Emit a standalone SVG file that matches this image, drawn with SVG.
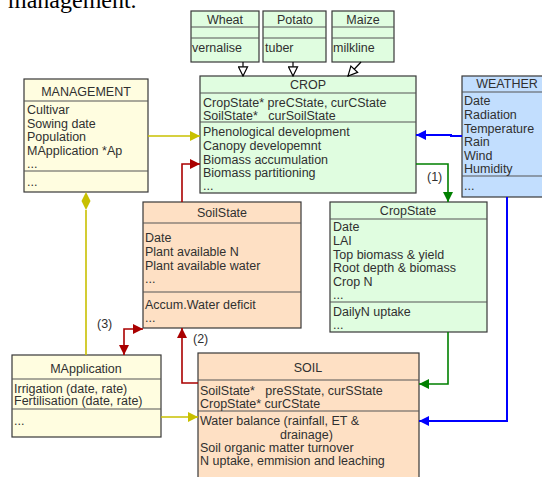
<svg xmlns="http://www.w3.org/2000/svg" width="542" height="477" viewBox="0 0 542 477">
<defs>
<style>
text{font-family:"Liberation Sans",Arial,sans-serif;font-size:12.5px;fill:#303030}
.t{text-anchor:middle}
.box{stroke:#383838;stroke-width:1.2}
.div{stroke:#555;stroke-width:1.2}
.g{fill:#e0fde0}.b{fill:#c2defe}.y{fill:#fffde0}.p{fill:#fee0c4}
.c{fill:none;stroke-width:1.6}
.cy{stroke:#c8c000}.cr{stroke:#aa0000}.cg{stroke:#008000}.cb{stroke:#0000ff;stroke-width:2}
.ck{fill:none;stroke:#000;stroke-width:1.2}
</style>
<marker id="ay" viewBox="0 0 10 10" refX="10" refY="5" markerWidth="10" markerHeight="10" markerUnits="userSpaceOnUse" orient="auto"><path d="M0,0L10,5L0,10z" fill="#c8c000"/></marker>
<marker id="ar" viewBox="0 0 10 10" refX="10" refY="5" markerWidth="10" markerHeight="10" markerUnits="userSpaceOnUse" orient="auto"><path d="M0,0L10,5L0,10z" fill="#aa0000"/></marker>
<marker id="ars" viewBox="0 0 10 10" refX="10" refY="5" markerWidth="10" markerHeight="10" markerUnits="userSpaceOnUse" orient="auto-start-reverse"><path d="M0,0L10,5L0,10z" fill="#aa0000"/></marker>
<marker id="ag" viewBox="0 0 10 10" refX="10" refY="5" markerWidth="10" markerHeight="10" markerUnits="userSpaceOnUse" orient="auto"><path d="M0,0L10,5L0,10z" fill="#008000"/></marker>
<marker id="ab" viewBox="0 0 10 10" refX="10" refY="5" markerWidth="11" markerHeight="10" markerUnits="userSpaceOnUse" orient="auto"><path d="M0,0L10,5L0,10z" fill="#0000ff"/></marker>
<marker id="ah" viewBox="0 0 12 12" refX="11" refY="6" markerWidth="11" markerHeight="11" markerUnits="userSpaceOnUse" orient="auto"><path d="M1,1L11,6L1,11z" fill="#fff" stroke="#000" stroke-width="1.3"/></marker>
</defs>
<rect width="542" height="477" fill="#fff"/>
<text x="8" y="8" style="font-family:'Liberation Serif','Times New Roman',serif;font-size:24px;fill:#000">management.</text>

<g id="wheat">
<rect class="box g" x="191" y="11" width="68" height="51"/>
<line class="div" x1="191" y1="27" x2="259" y2="27"/><line class="div" x1="191" y1="38" x2="259" y2="38"/>
<text class="t" x="225" y="24">Wheat</text><text x="192" y="52">vernalise</text>
</g>
<g id="potato">
<rect class="box g" x="263" y="11" width="63" height="51"/>
<line class="div" x1="263" y1="27" x2="326" y2="27"/><line class="div" x1="263" y1="38" x2="326" y2="38"/>
<text class="t" x="295" y="24">Potato</text><text x="265" y="52">tuber</text>
</g>
<g id="maize">
<rect class="box g" x="332" y="11" width="62" height="51"/>
<line class="div" x1="332" y1="27" x2="394" y2="27"/><line class="div" x1="332" y1="38" x2="394" y2="38"/>
<text class="t" x="363" y="24">Maize</text><text x="333" y="52">milkline</text>
</g>

<g id="crop">
<rect class="box g" x="200" y="76" width="216" height="117"/>
<line class="div" x1="200" y1="93" x2="416" y2="93"/><line class="div" x1="200" y1="122" x2="416" y2="122"/>
<text class="t" x="308" y="89">CROP</text>
<text x="203" y="106.5">CropState* preCState, curCState</text>
<text x="203" y="119.5" xml:space="preserve">SoilState*   curSoilState</text>
<text x="203" y="136">Phenological development</text>
<text x="203" y="150">Canopy developemnt</text>
<text x="203" y="163.5">Biomass accumulation</text>
<text x="203" y="177">Biomass partitioning</text>
<text x="203" y="190">...</text>
</g>

<g id="weather">
<rect class="box b" x="462" y="76" width="100" height="121"/>
<line class="div" x1="462" y1="92" x2="562" y2="92"/><line class="div" x1="462" y1="176" x2="562" y2="176"/>
<text class="t" x="507" y="88">WEATHER</text>
<text x="464" y="104.5">Date</text>
<text x="464" y="118.5">Radiation</text>
<text x="464" y="132.5">Temperature</text>
<text x="464" y="145.5">Rain</text>
<text x="464" y="159.5">Wind</text>
<text x="464" y="172.5">Humidity</text>
<text x="464" y="190">...</text>
</g>

<g id="management">
<rect class="box y" x="24" y="79" width="124" height="113"/>
<line class="div" x1="24" y1="101" x2="148" y2="101"/><line class="div" x1="24" y1="171" x2="148" y2="171"/>
<text class="t" x="86" y="95.5">MANAGEMENT</text>
<text x="27" y="113.5">Cultivar</text>
<text x="27" y="127.5">Sowing date</text>
<text x="27" y="141">Population</text>
<text x="27" y="154.5">MApplication *Ap</text>
<text x="27" y="167.5">...</text>
<text x="27" y="186">...</text>
</g>

<g id="soilstate">
<rect class="box p" x="143" y="202" width="158" height="126"/>
<line class="div" x1="143" y1="223" x2="301" y2="223"/><line class="div" x1="143" y1="292" x2="301" y2="292"/>
<text class="t" x="222" y="216.5">SoilState</text>
<text x="145" y="241.5">Date</text>
<text x="145" y="255.5">Plant available N</text>
<text x="145" y="269.5">Plant available water</text>
<text x="145" y="283">...</text>
<text x="145" y="308.5">Accum.Water deficit</text>
<text x="145" y="321.5">...</text>
</g>

<g id="cropstate">
<rect class="box g" x="330" y="202" width="157" height="130"/>
<line class="div" x1="330" y1="219" x2="487" y2="219"/><line class="div" x1="330" y1="302" x2="487" y2="302"/>
<text class="t" x="408" y="214.5">CropState</text>
<text x="333" y="230.5">Date</text>
<text x="333" y="244.5">LAI</text>
<text x="333" y="258.5">Top biomass &amp; yield</text>
<text x="333" y="271.5">Root depth &amp; biomass</text>
<text x="333" y="285.5">Crop N</text>
<text x="333" y="298.5">...</text>
<text x="333" y="315.5">DailyN uptake</text>
<text x="333" y="328.5">...</text>
</g>

<g id="mapplication">
<rect class="box y" x="12" y="355" width="149" height="82"/>
<line class="div" x1="12" y1="379" x2="161" y2="379"/><line class="div" x1="12" y1="409" x2="161" y2="409"/>
<text class="t" x="86" y="372.5">MApplication</text>
<text x="14" y="392.5">Irrigation (date, rate)</text>
<text x="14" y="405">Fertilisation (date, rate)</text>
<text x="14" y="425">...</text>
</g>

<g id="soil">
<rect class="box p" x="198" y="353" width="221" height="140"/>
<line class="div" x1="198" y1="380" x2="419" y2="380"/><line class="div" x1="198" y1="411" x2="419" y2="411"/>
<text class="t" x="308" y="371.5">SOIL</text>
<text x="200" y="394.5" xml:space="preserve">SoilState*   preSState, curSState</text>
<text x="200" y="407.5">CropState* curCState</text>
<text x="200" y="424.5">Water balance (rainfall, ET &amp;</text>
<text x="280" y="438.5">drainage)</text>
<text x="200" y="451.5">Soil organic matter turnover</text>
<text x="200" y="464.5">N uptake, emmision and leaching</text>
</g>

<g id="connectors">
<line class="ck" x1="243" y1="62" x2="243" y2="76" marker-end="url(#ah)"/>
<line class="ck" x1="293" y1="62" x2="293" y2="76" marker-end="url(#ah)"/>
<line class="ck" x1="361" y1="62" x2="348" y2="76" marker-end="url(#ah)"/>
<polyline class="c cb" points="462,136 451,136 451,135 416,135" marker-end="url(#ab)"/>
<polyline class="c cg" points="416,164 448,164 448,202" marker-end="url(#ag)"/>
<text x="427" y="181">(1)</text>
<polyline class="c cg" points="448,332 448,384 419,384" marker-end="url(#ag)"/>
<polyline class="c cb" points="507,197 507,421 419,421" marker-end="url(#ab)"/>
<line class="c cy" x1="148" y1="136" x2="200" y2="136" marker-end="url(#ay)"/>
<polyline class="c cr" points="182,202 182,164 200,164" marker-end="url(#ar)"/>
<path d="M86,192L90.5,201L86,210L81.5,201z" fill="#c8c000"/>
<line class="c cy" x1="86" y1="210" x2="86" y2="355"/>
<polyline class="c cr" points="124,355 124,329 143,329" marker-start="url(#ars)" marker-end="url(#ar)"/>
<text x="97" y="328">(3)</text>
<polyline class="c cr" points="198,383 182,383 182,328" marker-end="url(#ar)"/>
<text x="193" y="343">(2)</text>
<line class="c cy" x1="161" y1="417" x2="198" y2="417" marker-end="url(#ay)"/>
</g>
</svg>
